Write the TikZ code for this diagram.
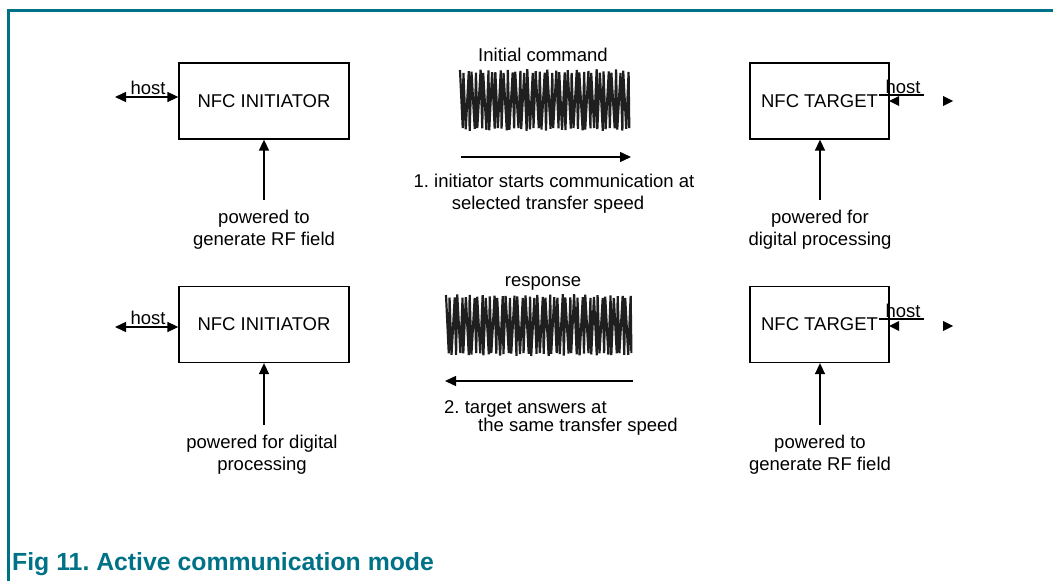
\documentclass[tikz,border=0pt]{standalone}
\usepackage{fontspec}
\setmainfont{Liberation Sans}
\usetikzlibrary{arrows.meta}
\definecolor{nxpteal}{RGB}{0,114,136}
\frenchspacing
\begin{document}
\begin{tikzpicture}[x=1pt,y=-1pt,
  lbl/.style={font=\fontsize{18.5}{22}\selectfont, inner sep=0pt, anchor=base},
  box/.style={draw, line width=1.3pt, minimum height=76pt, inner sep=0pt, font=\fontsize{18.5}{22}\selectfont},
  arr/.style={line width=1.5pt, -{Triangle[length=11pt,width=10pt]}},
  dbl/.style={line width=1.5pt, {Triangle[length=11pt,width=10pt]}-{Triangle[length=11pt,width=10pt]}},
  thinl/.style={line width=1.2pt},
  wave/.style={line width=2.2pt, black!88, line join=miter},
  tip/.style={fill=black}
]
\useasboundingbox (0,0) rectangle (1053,581);
% frame
\draw[nxpteal, line width=3pt] (8.5,581) -- (8.5,10.5) -- (1053,10.5);

% ---------- row 1 ----------
\node[box, minimum width=170pt] (ini1) at (264,101) {NFC INITIATOR};
\node[box, minimum width=139pt] (tgt1) at (819.5,101) {NFC TARGET};
\coordinate (h1) at (115,97);
\draw[dbl] (h1) -- (ini1.west |- h1);
\node[lbl] (host1) at (148,94) {host};
\draw[thinl] (879,95) coordinate (t1a) -- (924,95) coordinate (t1b);
\fill[tip] (889,101) -- ++(10,-5) -- ++(0,10) -- cycle;
\fill[tip] (953,101) -- ++(-10,-5) -- ++(0,10) -- cycle;
\node[lbl] (host2) at (903,93) {host};

\node[lbl] (cmd) at (543,61) {Initial command};
\draw[wave] (460,70) \foreach \i in {1,...,85}{ -- ({460+\i*2+0.8*sin(\i*113)},{mod(\i,2)==1 ? 131-3*abs(sin(\i*71)) : 69+4*abs(sin(\i*53))}) };
\coordinate (a1s) at (461,157);
\coordinate (a1e) at (631,157);
\draw[arr] (a1s) -- (a1e);
\node[lbl] (t1l1) at (554,187) {1. initiator starts communication at};
\node[lbl] (t1l2) at (548,209) {selected transfer speed};

\coordinate (p1) at (264,200);
\draw[arr] (p1) -- (ini1.south);
\node[lbl] (pw1a) at (264,223) {powered to};
\node[lbl] (pw1b) at (264,245) {generate RF field};
\coordinate (p2) at (820,200);
\draw[arr] (p2) -- (tgt1.south -| p2);
\node[lbl] (pw2a) at (820,223) {powered for};
\node[lbl] (pw2b) at (820,245) {digital processing};

% ---------- row 2 ----------
\node[box, minimum width=170pt] (ini2) at (264,324.5) {NFC INITIATOR};
\node[box, minimum width=139pt] (tgt2) at (819.5,324.5) {NFC TARGET};
\coordinate (h2) at (115,327);
\draw[dbl] (h2) -- (ini2.west |- h2);
\node[lbl] (host3) at (148,324) {host};
\draw[thinl] (879,319) coordinate (t2a) -- (924,319) coordinate (t2b);
\fill[tip] (889,326) -- ++(10,-5) -- ++(0,10) -- cycle;
\fill[tip] (953,326) -- ++(-10,-5) -- ++(0,10) -- cycle;
\node[lbl] (host4) at (903,317) {host};

\node[lbl] (resp) at (543,286) {response};
\draw[wave] (446,295) \foreach \i in {1,...,93}{ -- ({446+\i*2+0.8*sin(\i*107)},{mod(\i,2)==1 ? 356-3*abs(sin(\i*67)) : 294+4*abs(sin(\i*59))}) };
\coordinate (a2s) at (633,381);
\coordinate (a2e) at (445,381);
\draw[arr] (a2s) -- (a2e);
\node[lbl, anchor=base west] (t2l1) at (444,413) {2. target answers at};
\node[lbl, anchor=base west] (t2l2) at (478,431) {the same transfer speed};

\coordinate (p3) at (264,425);
\draw[arr] (p3) -- (ini2.south);
\node[lbl] (pw3a) at (262,448) {powered for digital};
\node[lbl] (pw3b) at (262,470) {processing};
\coordinate (p4) at (820,425);
\draw[arr] (p4) -- (tgt2.south -| p4);
\node[lbl] (pw4a) at (820,448) {powered to};
\node[lbl] (pw4b) at (820,470) {generate RF field};

% caption
\node[anchor=base west, inner sep=0pt, text=nxpteal, font=\bfseries\fontsize{24.8}{28}\selectfont] (cap) at (12,570) {Fig 11. Active communication mode};
\end{tikzpicture}
\end{document}
